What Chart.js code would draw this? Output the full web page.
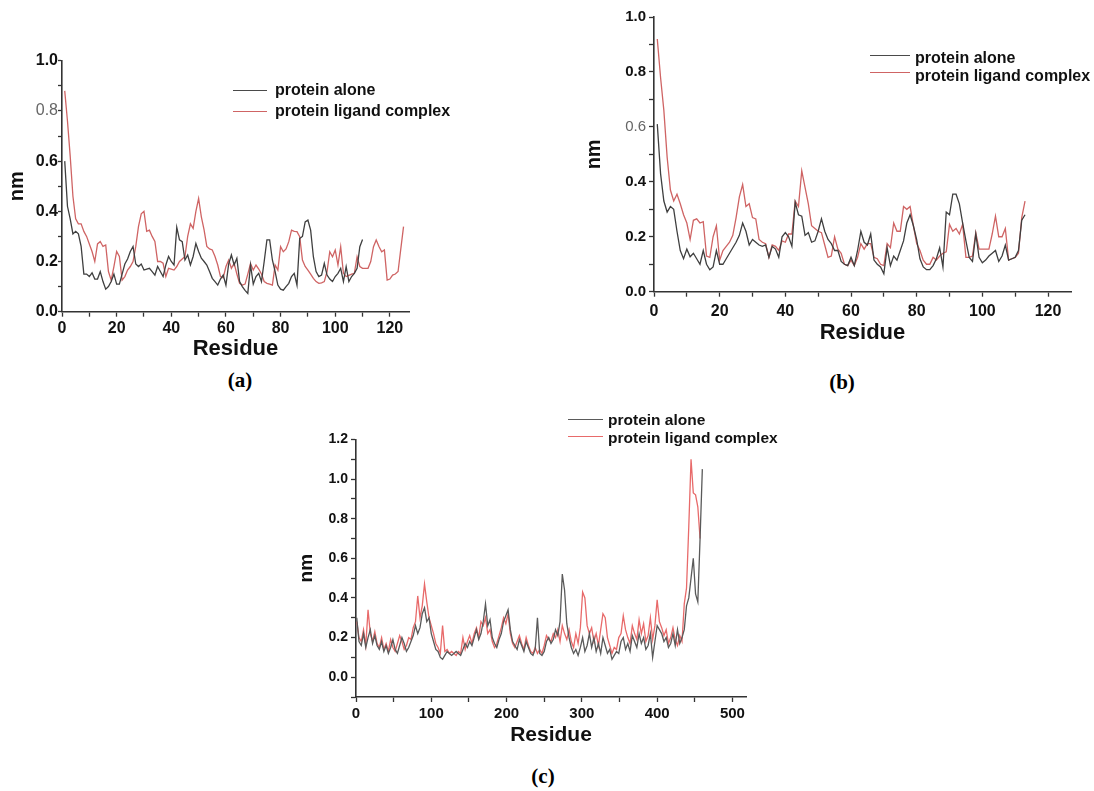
<!DOCTYPE html>
<html>
<head>
<meta charset="utf-8">
<script src="https://cdn.jsdelivr.net/npm/chart.js@4.4.1/dist/chart.umd.min.js"></script>
<style>
  body { margin: 0; background: #fff; }
  #page { position: relative; width: 1094px; height: 791px; overflow: hidden; background: #fff; }
  canvas { position: absolute; }
  .swatch { position: absolute; height: 1.3px; }
  .legtext { position: absolute; font: bold 16px "Liberation Sans", Arial, sans-serif; line-height: 18px; color: #111; white-space: nowrap; }
  .panel { position: absolute; font: bold 21px "Liberation Serif", "Times New Roman", serif; color: #000; transform: translate(-50%, -50%); }
</style>
</head>
<body>
<div id="page">
  <canvas id="chartA" width="409" height="312" style="left:5px;top:50px"></canvas>
  <canvas id="chartB" width="494" height="341" style="left:582px;top:5px"></canvas>
  <canvas id="chartC" width="457" height="320" style="left:295px;top:428px"></canvas>

  <div class="swatch" style="left:233px;top:90px;width:34px;background:#4a4a4a"></div>
  <div class="legtext" style="left:275px;top:81px">protein alone</div>
  <div class="swatch" style="left:233px;top:111px;width:34px;background:#cf6464"></div>
  <div class="legtext" style="left:275px;top:102px">protein ligand complex</div>

  <div class="swatch" style="left:870px;top:55px;width:40px;background:#4a4a4a"></div>
  <div class="legtext" style="left:915px;top:49px">protein alone</div>
  <div class="swatch" style="left:870px;top:72px;width:40px;background:#cf6464"></div>
  <div class="legtext" style="left:915px;top:67px">protein ligand complex</div>

  <div class="swatch" style="left:568px;top:419px;width:35px;background:#5a5a5a"></div>
  <div class="legtext" style="left:608px;top:411px;font-size:15.5px">protein alone</div>
  <div class="swatch" style="left:568px;top:436px;width:35px;background:#e86a6a"></div>
  <div class="legtext" style="left:608px;top:429px;font-size:15.5px">protein ligand complex</div>

  <div class="panel" style="left:240px;top:380px">(a)</div>
  <div class="panel" style="left:842px;top:382px">(b)</div>
  <div class="panel" style="left:543px;top:776px">(c)</div>
</div>
<script>
// series names
const seriesNames = ['protein alone', 'protein ligand complex'];

// panel (a): one value per residue, starting at residue 1
const aloneA = [
  0.60, 0.42, 0.37, 0.31, 0.32, 0.31, 0.26, 0.15, 0.15, 0.14,
  0.155, 0.13, 0.13, 0.16, 0.12, 0.09, 0.10, 0.12, 0.15, 0.11,
  0.11, 0.15, 0.19, 0.21, 0.24, 0.26, 0.19, 0.18, 0.19, 0.166,
  0.17, 0.173, 0.16, 0.146, 0.18, 0.16, 0.14, 0.186, 0.22, 0.20,
  0.186, 0.336, 0.286, 0.279, 0.206, 0.226, 0.186, 0.22, 0.272, 0.24,
  0.213, 0.20, 0.186, 0.16, 0.133, 0.12, 0.106, 0.13, 0.146, 0.106,
  0.19, 0.226, 0.186, 0.213, 0.12, 0.10, 0.085, 0.073, 0.186, 0.11,
  0.14, 0.153, 0.12, 0.20, 0.286, 0.286, 0.206, 0.16, 0.106, 0.09,
  0.086, 0.10, 0.113, 0.14, 0.153, 0.106, 0.292, 0.30, 0.358, 0.365,
  0.325, 0.219, 0.16, 0.14, 0.146, 0.193, 0.146, 0.13, 0.12, 0.14,
  0.153, 0.173, 0.12, 0.18, 0.12, 0.14, 0.153, 0.173, 0.259, 0.288
];
const complexA = [
  0.88, 0.76, 0.62, 0.46, 0.37, 0.35, 0.35, 0.32, 0.30, 0.27,
  0.24, 0.20, 0.27, 0.28, 0.26, 0.266, 0.16, 0.126, 0.18, 0.24,
  0.22, 0.126, 0.14, 0.166, 0.18, 0.20, 0.26, 0.34, 0.39, 0.40,
  0.32, 0.325, 0.30, 0.28, 0.20, 0.20, 0.193, 0.14, 0.173, 0.17,
  0.166, 0.18, 0.20, 0.21, 0.22, 0.30, 0.35, 0.332, 0.40, 0.451,
  0.378, 0.326, 0.26, 0.25, 0.246, 0.22, 0.186, 0.14, 0.135, 0.18,
  0.206, 0.173, 0.193, 0.15, 0.113, 0.106, 0.11, 0.15, 0.192, 0.166,
  0.186, 0.17, 0.15, 0.12, 0.113, 0.11, 0.106, 0.186, 0.166, 0.259,
  0.239, 0.25, 0.279, 0.325, 0.32, 0.319, 0.299, 0.206, 0.18, 0.166,
  0.15, 0.133, 0.12, 0.113, 0.115, 0.12, 0.16, 0.239, 0.219, 0.246,
  0.186, 0.259, 0.153, 0.14, 0.145, 0.15, 0.153, 0.219, 0.18, 0.173,
  0.173, 0.173, 0.20, 0.259, 0.286, 0.26, 0.239, 0.246, 0.126, 0.13,
  0.146, 0.15, 0.16, 0.25, 0.339
];

// panel (b): one value per residue, starting at residue 1
const aloneB = [
  0.61, 0.43, 0.33, 0.29, 0.31, 0.30, 0.22, 0.15, 0.12, 0.155,
  0.127, 0.14, 0.12, 0.10, 0.15, 0.10, 0.08, 0.09, 0.15, 0.10,
  0.10, 0.12, 0.14, 0.16, 0.18, 0.205, 0.25, 0.22, 0.17, 0.19,
  0.18, 0.17, 0.165, 0.17, 0.125, 0.165, 0.155, 0.125, 0.20, 0.215,
  0.20, 0.165, 0.325, 0.28, 0.275, 0.205, 0.215, 0.18, 0.185, 0.22,
  0.265, 0.22, 0.19, 0.175, 0.15, 0.15, 0.11, 0.10, 0.095, 0.125,
  0.095, 0.15, 0.22, 0.18, 0.17, 0.21, 0.115, 0.10, 0.09, 0.065,
  0.16, 0.095, 0.13, 0.115, 0.15, 0.185, 0.25, 0.28, 0.24, 0.19,
  0.12, 0.09, 0.08, 0.08, 0.095, 0.12, 0.16, 0.09, 0.29, 0.28,
  0.355, 0.355, 0.32, 0.25, 0.185, 0.125, 0.11, 0.21, 0.125, 0.105,
  0.115, 0.13, 0.14, 0.15, 0.11, 0.13, 0.17, 0.115, 0.12, 0.125,
  0.15, 0.26, 0.28
];
const complexB = [
  0.92, 0.78, 0.66, 0.49, 0.37, 0.33, 0.355, 0.32, 0.28, 0.25,
  0.19, 0.26, 0.265, 0.25, 0.255, 0.13, 0.125, 0.20, 0.24, 0.115,
  0.15, 0.165, 0.18, 0.205, 0.27, 0.345, 0.39, 0.31, 0.32, 0.27,
  0.265, 0.19, 0.18, 0.175, 0.125, 0.17, 0.165, 0.15, 0.185, 0.18,
  0.21, 0.21, 0.33, 0.31, 0.44, 0.38, 0.32, 0.24, 0.23, 0.22,
  0.215, 0.17, 0.125, 0.13, 0.20, 0.155, 0.14, 0.10, 0.095, 0.115,
  0.095, 0.125, 0.175, 0.155, 0.175, 0.175, 0.125, 0.12, 0.10, 0.095,
  0.175, 0.16, 0.25, 0.22, 0.22, 0.31, 0.30, 0.31, 0.24, 0.175,
  0.15, 0.115, 0.10, 0.10, 0.125, 0.115, 0.13, 0.14, 0.145, 0.245,
  0.22, 0.23, 0.21, 0.245, 0.125, 0.125, 0.13, 0.215, 0.155, 0.155,
  0.155, 0.155, 0.21, 0.275, 0.20, 0.20, 0.23, 0.115, 0.12, 0.125,
  0.14, 0.27, 0.33
];

// panel (c): one value every third residue, starting at residue 1
const stepC = 3;
const aloneC = [
  0.30, 0.18, 0.16, 0.22, 0.15, 0.20, 0.24, 0.17, 0.21, 0.16,
  0.14, 0.18, 0.13, 0.16, 0.12, 0.15, 0.19, 0.14, 0.12, 0.16,
  0.20, 0.17, 0.13, 0.15, 0.18, 0.21, 0.26, 0.22, 0.25, 0.32,
  0.35, 0.28, 0.30, 0.22, 0.18, 0.14, 0.13, 0.10, 0.09, 0.11,
  0.13, 0.12, 0.11, 0.12, 0.13, 0.12, 0.11, 0.14, 0.17, 0.15,
  0.18, 0.16, 0.20, 0.24, 0.19, 0.22, 0.28, 0.37, 0.26, 0.29,
  0.20, 0.17, 0.15, 0.19, 0.22, 0.28, 0.31, 0.34, 0.24, 0.18,
  0.16, 0.14, 0.19, 0.16, 0.13, 0.18, 0.15, 0.12, 0.11, 0.14,
  0.30, 0.12, 0.11, 0.13, 0.18, 0.20, 0.17, 0.19, 0.24, 0.21,
  0.28, 0.52, 0.44, 0.27, 0.20, 0.15, 0.12, 0.14, 0.11, 0.15,
  0.20, 0.13, 0.16, 0.22, 0.15, 0.20, 0.13, 0.17, 0.12, 0.20,
  0.16, 0.12, 0.14, 0.09, 0.11, 0.13, 0.12, 0.18, 0.20, 0.14,
  0.17, 0.13, 0.21, 0.18, 0.15, 0.22, 0.17, 0.20, 0.14, 0.16,
  0.22, 0.10, 0.18, 0.26, 0.24, 0.22, 0.18, 0.20, 0.15, 0.17,
  0.22, 0.16, 0.24, 0.17, 0.20, 0.24, 0.36, 0.40, 0.50, 0.60,
  0.42, 0.38, 0.70, 1.05
];
const complexC = [
  0.28, 0.20, 0.18, 0.24, 0.16, 0.34, 0.22, 0.18, 0.23, 0.17,
  0.15, 0.20, 0.14, 0.17, 0.13, 0.19, 0.15, 0.13, 0.17, 0.21,
  0.18, 0.14, 0.16, 0.20, 0.19, 0.25, 0.28, 0.41, 0.30, 0.36,
  0.47, 0.38, 0.30, 0.26, 0.22, 0.17, 0.15, 0.12, 0.26, 0.13,
  0.14, 0.12, 0.13, 0.12, 0.11, 0.13, 0.12, 0.20, 0.14, 0.18,
  0.21, 0.17, 0.22, 0.25, 0.20, 0.28, 0.26, 0.30, 0.22, 0.24,
  0.18, 0.15, 0.17, 0.21, 0.25, 0.30, 0.27, 0.32, 0.22, 0.17,
  0.15, 0.18, 0.21, 0.17, 0.14, 0.20, 0.16, 0.13, 0.12, 0.15,
  0.12, 0.14, 0.12, 0.16, 0.21, 0.19, 0.18, 0.22, 0.20, 0.24,
  0.18, 0.26, 0.22, 0.19, 0.24, 0.18, 0.15, 0.22, 0.17, 0.25,
  0.43, 0.40, 0.26, 0.22, 0.25, 0.18, 0.22, 0.16, 0.24, 0.32,
  0.30, 0.20, 0.16, 0.12, 0.15, 0.14, 0.20, 0.22, 0.31, 0.24,
  0.20, 0.17, 0.26, 0.22, 0.19, 0.29, 0.22, 0.27, 0.18, 0.21,
  0.30, 0.19, 0.26, 0.39, 0.28, 0.25, 0.21, 0.24, 0.17, 0.20,
  0.25, 0.19, 0.16, 0.21, 0.18, 0.37, 0.45, 0.76, 1.10, 0.93,
  0.92, 0.86, 0.70
];

// tick labels
const xLabelsAB = [0, 20, 40, 60, 80, 100, 120];
const xLabelsC = [0, 100, 200, 300, 400, 500];
const yLabelsAB = [0, 0.2, 0.4, 0.6, 0.8, 1.0];
const yLabelsC = [0, 0.2, 0.4, 0.6, 0.8, 1.0, 1.2];

Chart.defaults.font.family = '"Liberation Sans", Arial, sans-serif';
Chart.defaults.color = '#111';

const toPoints = (vals, step) => vals.map((v, i) => ({ x: 1 + i * step, y: v }));
const yLabelsHas = (list, r) => list.some(l => Math.abs(l - r) < 1e-6);
const isGrey = (c, g) => !!(c && c.tick && Math.abs(c.tick.value - g) < 1e-6);

const makeChart = (id, p) => {
    const ctx = document.getElementById(id).getContext('2d');
    const axisColor = '#333';
    return new Chart(ctx, {
        type: 'line',
        data: {
            datasets: [
                { label: seriesNames[0], data: p.alone, borderColor: p.colors[0], borderWidth: 1.3 },
                { label: seriesNames[1], data: p.complex, borderColor: p.colors[1], borderWidth: 1.3 }
            ]
        },
        options: {
            responsive: false,
            animation: false,
            devicePixelRatio: 1,
            layout: { padding: { top: p.padTop, right: p.padRight, left: 0, bottom: 0 } },
            elements: { point: { radius: 0 }, line: { tension: 0 } },
            plugins: { legend: { display: false }, tooltip: { enabled: false } },
            scales: {
                x: {
                    type: 'linear',
                    min: 0,
                    max: p.xMax,
                    border: { color: axisColor, width: 1.6 },
                    grid: { drawOnChartArea: false, tickLength: 5, color: axisColor, tickWidth: 1.3 },
                    ticks: {
                        stepSize: p.xStep,
                        includeBounds: false,
                        autoSkip: false,
                        maxRotation: 0,
                        padding: p.xPad,
                        font: { size: p.xFont, weight: 'bold' },
                        callback: v => p.xLabels.includes(v) ? String(v) : ''
                    },
                    title: { display: true, text: 'Residue', padding: 0, font: { size: p.xTitle, weight: 'bold' } },
                    afterFit: s => { s.height = p.xH; }
                },
                y: {
                    min: p.yMin,
                    max: p.yMax,
                    border: { color: axisColor, width: 1.6 },
                    grid: { drawOnChartArea: false, tickLength: p.yTick, color: axisColor, tickWidth: 1.3 },
                    ticks: {
                        stepSize: 0.1,
                        autoSkip: false,
                        padding: p.yPad,
                        color: c => isGrey(c, p.greyTick) ? '#666' : '#111',
                        font: c => ({ size: p.yFont, weight: isGrey(c, p.greyTick) ? 'normal' : 'bold' }),
                        callback: v => {
                            const r = Math.round(v * 10) / 10;
                            return yLabelsHas(p.yLabels, r) ? r.toFixed(1) : '';
                        }
                    },
                    title: { display: true, text: 'nm', padding: 0, font: { size: p.yTitle, weight: 'bold' } },
                    afterFit: s => { s.width = p.yW; }
                }
            }
        }
    });
};

makeChart('chartA', {
    alone: toPoints(aloneA, 1), complex: toPoints(complexA, 1),
    colors: ['#3f3f3f', '#cf6464'],
    xMax: 127, xStep: 10, xLabels: xLabelsAB, xFont: 16, xPad: 2, xTitle: 22, xH: 50.3,
    yMin: 0, yMax: 1.0, yLabels: yLabelsAB, yFont: 16, yPad: 0, yTick: 4, yTitle: 20, yW: 57,
    greyTick: 0.8, padTop: 10.7, padRight: 5
});

makeChart('chartB', {
    alone: toPoints(aloneB, 1), complex: toPoints(complexB, 1),
    colors: ['#3f3f3f', '#cf6464'],
    xMax: 127, xStep: 10, xLabels: xLabelsAB, xFont: 16, xPad: 5, xTitle: 22, xH: 54.3,
    yMin: 0, yMax: 1.0, yLabels: yLabelsAB, yFont: 15, yPad: 3, yTick: 5, yTitle: 20, yW: 72,
    greyTick: 0.6, padTop: 10, padRight: 5
});

makeChart('chartC', {
    alone: toPoints(aloneC, stepC), complex: toPoints(complexC, stepC),
    colors: ['#5a5a5a', '#e86a6a'],
    xMax: 518, xStep: 50, xLabels: xLabelsC, xFont: 15, xPad: 3, xTitle: 21, xH: 51,
    yMin: -0.1, yMax: 1.2, yLabels: yLabelsC, yFont: 14, yPad: 3, yTick: 5, yTitle: 19, yW: 61,
    greyTick: -1, padTop: 10.3, padRight: 6
});
</script>
</body>
</html>
